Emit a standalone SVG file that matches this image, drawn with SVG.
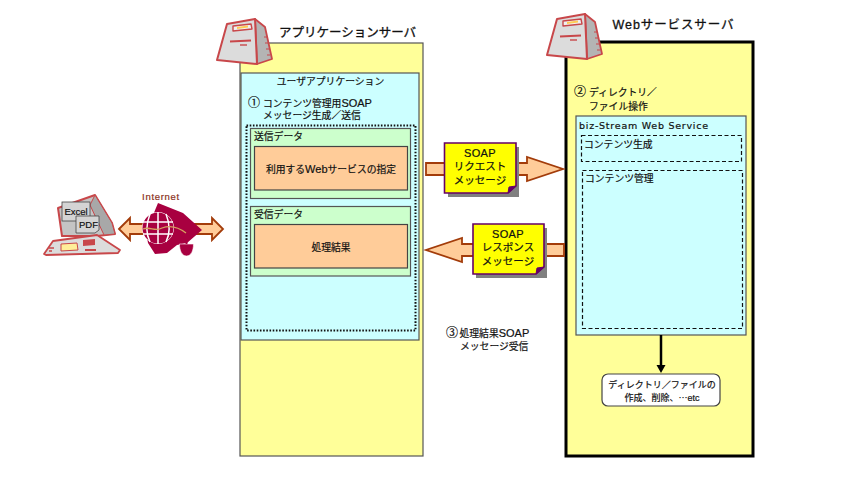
<svg xmlns="http://www.w3.org/2000/svg" width="850" height="483" viewBox="0 0 850 483">
<style>
text{font-family:"Liberation Sans","Noto Sans CJK JP",sans-serif;font-size:9.800px;fill:#111;stroke:#111;stroke-width:.2}
.m{text-anchor:middle}
.t{font-size:12.500px;stroke-width:.3}
.j{font-family:"Noto Sans CJK JP",sans-serif}
.l{font-size:10.500px}
.u{font-size:11px}
.q{font-size:12px}
.y{fill:#ffff99;stroke:#555;stroke-width:1.2}
.c{fill:#ccffff;stroke:#555;stroke-width:1.2}
.g{fill:#ccffcc;stroke:#555;stroke-width:1.2}
.o{fill:#ffcc99;stroke:#444;stroke-width:1.2}
.d{fill:none;stroke:#111;stroke-width:1.2;stroke-dasharray:4 2.5}
.a{fill:#ffcc99;stroke:#a33c0a;stroke-width:1.8}
.n{fill:#ffff00;stroke:#660066;stroke-width:1.6}
.s{fill:#808080}
.r{stroke:#c8474a;stroke-linejoin:round}
</style>
<defs>
<g id="srv">
<path class="r" d="M38 2L48 10L55 42L40 47Z" fill="#b4b4b4" stroke-width="1.800"/>
<path class="r" d="M10 7L38 2L40 47L0 43Z" fill="#dcdcdc" stroke-width="2"/>
<path class="r" d="M16 9L34 7L35 12L16 14Z" fill="#f0f0f0" stroke-width="1.400"/>
<path d="M20 10L31 8.500V10.500L20 12Z" fill="#ffcc55"/>
<path d="M13 24.500L34 23.500" stroke="#c8474a" stroke-width="2.200" fill="none"/>
<path d="M23 28H30" stroke="#c8474a" stroke-width="1.400" fill="none"/>
<path d="M47 20L50 20M48 26L51 26M49 32L52 32M50 38L53 38" stroke="#c8474a" stroke-width="1" fill="none"/>
</g>
</defs>
<g id="app-server">
<rect class="y" x="240" y="43" width="183" height="413"/>
<use href="#srv" x="217" y="17"/>
<text class="t" x="347.500" y="37" text-anchor="middle">アプリケーションサーバ</text>
</g>
<g id="user-app">
<rect class="c" x="241" y="73" width="178" height="267"/>
<text class="m" x="330.500" y="85">ユーザアプリケーション</text>
<text x="248" y="107"><tspan class="q">①</tspan><tspan x="263">コンテンツ管理用</tspan><tspan class="u">SOAP</tspan></text>
<text x="263" y="119">メッセージ生成／送信</text>
<rect x="246.500" y="125.500" width="169" height="205" fill="none" stroke="#111" stroke-width="2" stroke-dasharray="1.6 1.6"/>
</g>
<g id="send-data">
<rect class="g" x="250.500" y="128.500" width="160" height="70"/>
<text x="254" y="140">送信データ</text>
<rect class="o" x="254.500" y="146.500" width="153" height="43.500"/>
<text class="m" x="331" y="172.500">利用する<tspan class="u">Web</tspan>サービスの指定</text>
</g>
<g id="recv-data">
<rect class="g" x="250.500" y="206.500" width="160" height="69.500"/>
<text x="254" y="218">受信データ</text>
<rect class="o" x="254.500" y="224.500" width="153" height="43.500"/>
<text class="m" x="331" y="251">処理結果</text>
</g>
<g id="web-server">
<rect x="566" y="42" width="187" height="414" fill="#ffff99" stroke="#000" stroke-width="3"/>
<use href="#srv" x="547" y="12"/>
<text class="t" x="673.500" y="29" text-anchor="middle" letter-spacing=".9">Webサービスサーバ</text>
<text x="574" y="96"><tspan class="q">②</tspan><tspan x="589">ディレクトリ／</tspan></text>
<text x="589" y="110">ファイル操作</text>
</g>
<g id="biz-stream">
<rect class="c" x="576" y="116" width="170" height="219"/>
<text x="579" y="128.500" letter-spacing=".75" style="font-family:'DejaVu Sans',sans-serif;font-size:9.500px">biz-Stream Web Service</text>
<rect class="d" x="581.500" y="135.500" width="160" height="26"/>
<text x="584" y="148">コンテンツ生成</text>
<rect class="d" x="582.500" y="170.500" width="160" height="158"/>
<text x="585" y="182">コンテンツ管理</text>
</g>
<g id="file-op">
<rect x="602" y="374" width="118" height="32" rx="6" fill="#fff" stroke="#444" stroke-width="1.2"/>
<text class="m" x="662" y="388" style="font-size:9px">ディレクトリ／ファイルの</text>
<text class="m" x="662" y="401" style="font-size:9px">作成、削除、<tspan class="j">…</tspan>etc</text>
</g>
<g id="connectors">
<path class="a" d="M426 163H527V157L563 169L527 181V175H426Z"/>
<path class="a" d="M564 244H462V238L426 250L462 262V256H564Z"/>
<path d="M661 335V366" stroke="#000" stroke-width="2.500" fill="none"/>
<path d="M656.500 365H665.500L661 373Z" fill="#000"/>
<path class="a" d="M119 229L130 218V224H212V218L223 229L212 240V234H130V240Z"/>
</g>
<g id="soap-request">
<path class="s" d="M448 147H519V197H448Z"/>
<path class="n" d="M444.500 143H516V186L508 193H444.500Z"/>
<path d="M516 186L508 193L509 187Z" fill="#660066" stroke="#660066"/>
<text class="m u" x="480" y="156.500" letter-spacing=".4">SOAP</text>
<text class="m l" x="480" y="170">リクエスト</text>
<text class="m l" x="480" y="183.500">メッセージ</text>
</g>
<g id="soap-response">
<path class="s" d="M476 228H547V278H476Z"/>
<path class="n" d="M473 224H544V267L536 274H473Z"/>
<path d="M544 267L536 274L537 268Z" fill="#660066" stroke="#660066"/>
<text class="m u" x="508" y="238" letter-spacing=".4">SOAP</text>
<text class="m l" x="508" y="251">レスポンス</text>
<text class="m l" x="508" y="264.500">メッセージ</text>
</g>
<g id="step-3">
<text x="446" y="337"><tspan class="q">③</tspan><tspan x="459.500">処理結果</tspan><tspan class="u">SOAP</tspan></text>
<text x="460" y="350">メッセージ受信</text>
</g>
<g id="internet">
<text class="m" x="161" y="200" style="fill:#8a3020;stroke:#8a3020;font-size:9.500px;letter-spacing:.7px">Internet</text>
<path d="M158 203L183 213L202 230L187 243L177 245L167 253L155 254L148 243L146 232Z" fill="#a80040"/>
<circle cx="158" cy="228" r="16" fill="#fff"/>
<circle cx="158" cy="228" r="15.500" fill="#a80040"/>
<path d="M143 222H173M143 234H173M158 212V244M150 214C146 224 146 234 150 242M166 214C170 224 170 234 166 242" stroke="#fff" stroke-width="1.500" fill="none"/>
<path d="M143 229C150 226 155 232 162 228C170 225 177 226 186 233" stroke="#d6a060" stroke-width="1.300" fill="none"/>
<path d="M179.500 244H193.500C193.500 251 191 256 186.500 256C182 256 179.500 251 179.500 244Z" fill="#a80040" stroke="#fff" stroke-width=".6"/>
<path d="M186.500 238V244" stroke="#a80040" stroke-width="2"/>
</g>
<g id="client">
<path class="r" d="M58 208L95 195L112 223L115 234L97 236L62 236Z" fill="#c4c4c4" stroke-width="2"/>
<path class="r" d="M95 195L112 223L115 234L104 235L90 205Z" fill="#a8a8a8" stroke-width="1"/>
<path class="r" d="M44 254L53 241L97 235L120 250L118 253L46 255Z" fill="#dcdcdc" stroke-width="1.800"/>
<path class="r" d="M61 244L77 243L78 250L61 251Z" fill="#ffee99" stroke-width="1"/>
<path d="M83 240L95 239V245L83 246ZM85 249H96V251H85Z" fill="#c8474a"/>
<path d="M49 248H54M49 251H52" stroke="#c8474a" stroke-width="1.400"/>
<rect x="62" y="202" width="28" height="19" fill="#d4d4d4" stroke="#444" stroke-width=".8"/>
<text x="64.500" y="214.500" style="font-size:9.500px">Excel</text>
<path d="M76 216H99V230L95 233H76Z" fill="#d4d4d4" stroke="#444" stroke-width=".8"/>
<text x="79" y="228" style="font-size:9.500px">PDF</text>
</g>
</svg>
